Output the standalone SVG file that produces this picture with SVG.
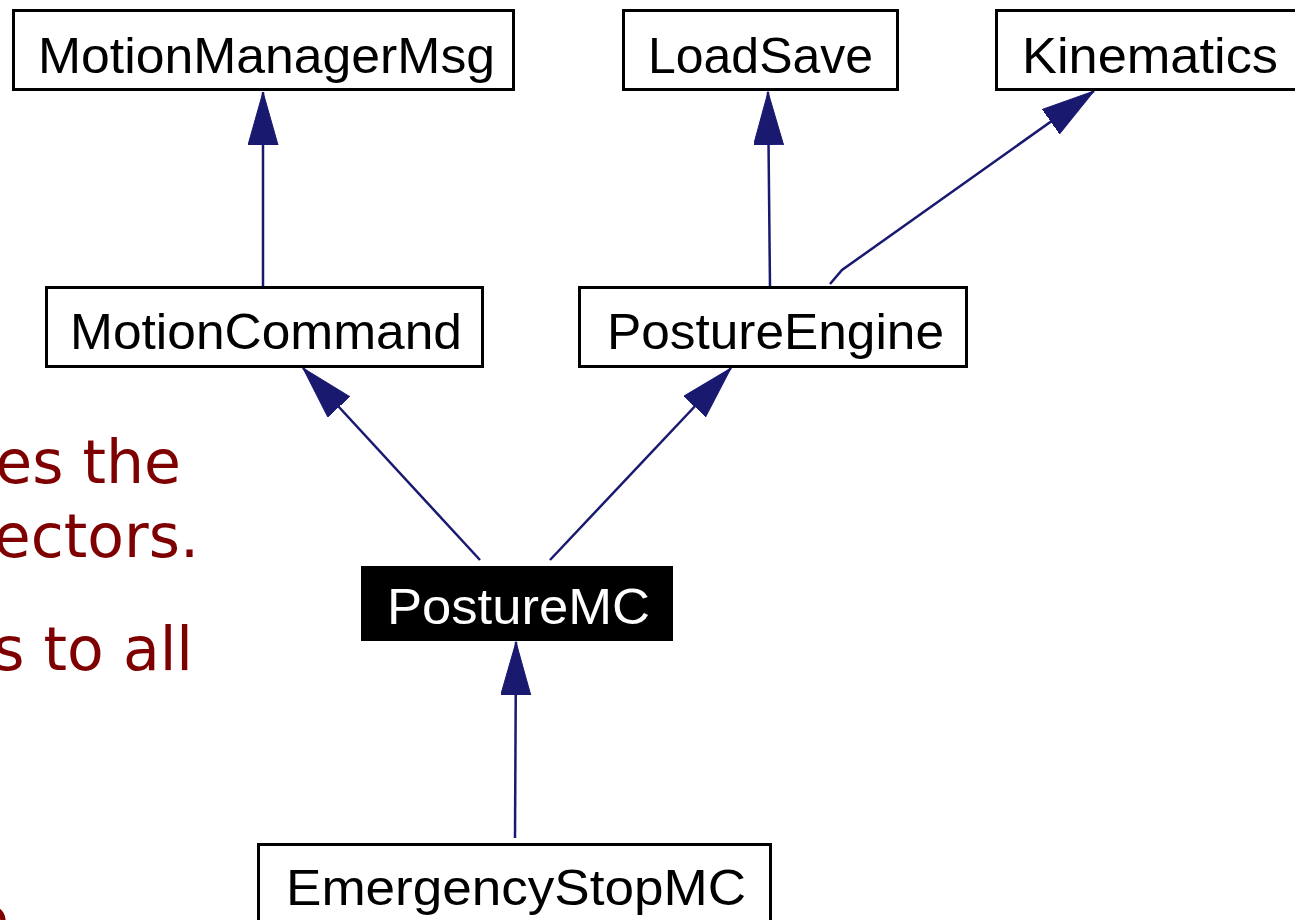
<svg xmlns="http://www.w3.org/2000/svg" width="1295" height="920" viewBox="0 0 1295 920">
<style>
.box{fill:#fff;stroke:#000;stroke-width:3}
.sel{fill:#000;stroke:#000;stroke-width:3}
.lbl{font-family:"Liberation Sans",Arial,sans-serif;font-size:50px;fill:#000}
.lblw{font-family:"Liberation Sans",Arial,sans-serif;font-size:50px;fill:#fff}
.edge{stroke:#191970;stroke-width:2.5;fill:none}
.slide{font-family:"DejaVu Sans",sans-serif;font-size:60px;fill:#7f0000}
</style>
<defs>
<marker id="ah" markerUnits="userSpaceOnUse" markerWidth="60" markerHeight="36" refX="53" refY="15" orient="auto" viewBox="0 0 60 36">
<path d="M0,0 L53,15 L0,30 z" fill="#191970" stroke="#191970" stroke-width="1"/>
</marker>
</defs>
<g id="slide-text">
<text class="slide" x="181" y="483" text-anchor="end">es the</text>
<text class="slide" x="199" y="557" text-anchor="end">ectors.</text>
<text class="slide" x="193" y="670" text-anchor="end">s to all</text>
<text class="slide" x="9" y="940" text-anchor="end">e</text>
</g>
<g id="connectors">
<path class="edge" d="M263,287 L263,92" marker-end="url(#ah)"/>
<path class="edge" d="M770,287 L768,92" marker-end="url(#ah)"/>
<path class="edge" d="M830,284 L842,270 L1094,91" marker-end="url(#ah)"/>
<path class="edge" d="M480,560 L303,368" marker-end="url(#ah)"/>
<path class="edge" d="M550,560 L731,368" marker-end="url(#ah)"/>
<path class="edge" d="M515,838 L516,642" marker-end="url(#ah)"/>
</g>
<g id="node-MotionManagerMsg">
<rect class="box" x="13.5" y="10.5" width="500" height="79"/>
<text class="lbl" x="38" y="73" textLength="457" lengthAdjust="spacingAndGlyphs">MotionManagerMsg</text>
</g>
<g id="node-LoadSave">
<rect class="box" x="623.5" y="10.5" width="274" height="79"/>
<text class="lbl" x="648" y="73" textLength="225" lengthAdjust="spacingAndGlyphs">LoadSave</text>
</g>
<g id="node-Kinematics">
<rect class="box" x="996.5" y="10.5" width="310" height="79"/>
<text class="lbl" x="1022" y="73" textLength="256" lengthAdjust="spacingAndGlyphs">Kinematics</text>
</g>
<g id="node-MotionCommand">
<rect class="box" x="46.5" y="287.5" width="436" height="79"/>
<text class="lbl" x="70" y="349" textLength="392" lengthAdjust="spacingAndGlyphs">MotionCommand</text>
</g>
<g id="node-PostureEngine">
<rect class="box" x="579.5" y="287.5" width="387" height="79"/>
<text class="lbl" x="607" y="349" textLength="337" lengthAdjust="spacingAndGlyphs">PostureEngine</text>
</g>
<g id="node-PostureMC">
<rect class="sel" x="362.5" y="567.5" width="309" height="72"/>
<text class="lblw" x="387" y="624" textLength="263" lengthAdjust="spacingAndGlyphs">PostureMC</text>
</g>
<g id="node-EmergencyStopMC">
<rect class="box" x="258.5" y="844.5" width="512" height="90"/>
<text class="lbl" x="286" y="905" textLength="460" lengthAdjust="spacingAndGlyphs">EmergencyStopMC</text>
</g>
</svg>
